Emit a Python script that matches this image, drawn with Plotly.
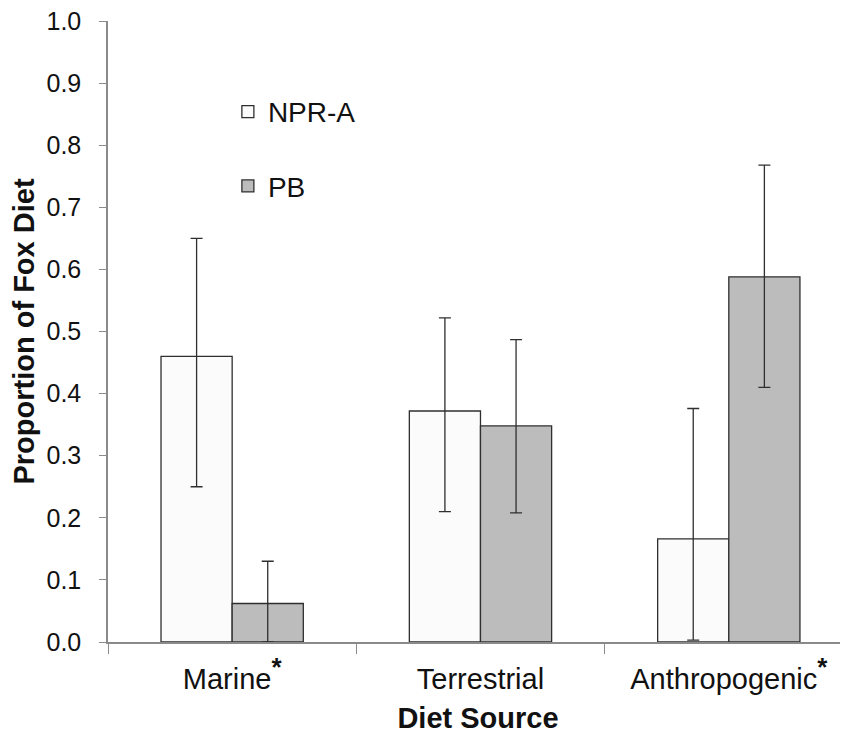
import plotly.graph_objects as go

categories = ["Marine<sup><b><span style='font-size:26px'>*</span></b></sup>", "Terrestrial",
              "Anthropogenic<sup><b><span style='font-size:26px'>*</span></b></sup>"]
npra_values = [0.46, 0.372, 0.166]
npra_err_plus = [0.19, 0.15, 0.21]
npra_err_minus = [0.21, 0.162, 0.163]
pb_values = [0.062, 0.348, 0.588]
pb_err_plus = [0.068, 0.139, 0.18]
pb_err_minus = [0.062, 0.14, 0.178]
y_ticks = [0.0, 0.1, 0.2, 0.3, 0.4, 0.5, 0.6, 0.7, 0.8, 0.9, 1.0]

FONT = "Liberation Sans, Arial, sans-serif"
LINE = "#2f2f2f"

fig = go.Figure()
fig.add_trace(go.Bar(
    name="NPR-A", x=categories, y=npra_values, legendgroup="a",
    marker=dict(color="#fbfbfb", line=dict(color=LINE, width=1.3)),
    error_y=dict(type="data", symmetric=False, array=npra_err_plus,
                 arrayminus=npra_err_minus, color=LINE, thickness=1.3, width=6),
))
fig.add_trace(go.Bar(
    name="PB", x=categories, y=pb_values, legendgroup="b",
    marker=dict(color="#bcbcbc", line=dict(color=LINE, width=1.3)),
    error_y=dict(type="data", symmetric=False, array=pb_err_plus,
                 arrayminus=pb_err_minus, color=LINE, thickness=1.3, width=6),
))

fig.update_layout(
    width=840, height=726,
    margin=dict(l=100, r=0, t=13, b=92),
    paper_bgcolor="white", plot_bgcolor="white",
    barmode="group", bargap=0.427, bargroupgap=0,
    font=dict(family=FONT, color="#111111"),
    showlegend=True,
    legend=dict(x=0.162, y=0.894, xanchor="left", yanchor="top",
                bgcolor="rgba(0,0,0,0)", font=dict(size=28, family=FONT, color="#111"),
                traceorder="grouped", tracegroupgap=35, itemwidth=30),
    xaxis=dict(
        range=[-0.5, 2.48], type="category", automargin=False,
        showline=True, linecolor="#8a8a8a", linewidth=1.5,
        ticks="outside", tickson="boundaries", ticklen=10, tickcolor="#8a8a8a",
        tickfont=dict(size=29, family=FONT, color="#111"),
        ticklabelstandoff=10, ticklabeloverflow="allow",
        title=dict(text="<b>Diet Source</b>", font=dict(size=29, family=FONT, color="#111"), standoff=14),
        showgrid=False, zeroline=False,
    ),
    yaxis=dict(
        range=[0, 1], tickvals=y_ticks, tickformat=".1f", automargin=False,
        showline=True, linecolor="#8a8a8a", linewidth=1.5,
        ticks="outside", ticklen=7, tickcolor="#8a8a8a",
        tickfont=dict(size=25, family=FONT, color="#111"),
        ticklabelstandoff=13, ticklabeloverflow="allow",
        title=dict(text="<b>Proportion of Fox Diet</b>", font=dict(size=29, family=FONT, color="#111"), standoff=4),
        showgrid=False, zeroline=False,
    ),
)

fig.write_html("out.html")
